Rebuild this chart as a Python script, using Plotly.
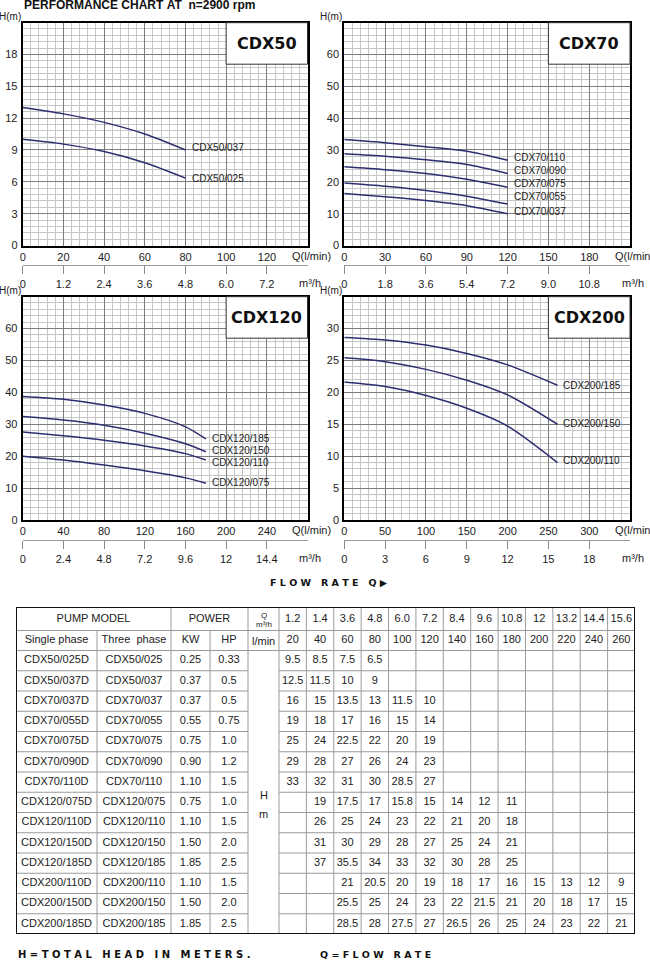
import plotly.graph_objects as go

W, H = 650, 961

# ------------------------------------------------------------------ data
TITLE = "PERFORMANCE CHART AT  n=2900 rpm"

cdx50_q = [0, 20, 40, 60, 80]
cdx50_models = ["CDX50/037", "CDX50/025"]
cdx50_heads = [
    [13.0, 12.4, 11.6, 10.5, 9.0],
    [10.0, 9.55, 8.85, 7.8, 6.35],
]
cdx50_m3h_ticks = ["0", "1.2", "2.4", "3.6", "4.8", "6.0", "7.2"]

cdx70_q = [0, 30, 60, 90, 120]
cdx70_models = ["CDX70/110", "CDX70/090", "CDX70/075", "CDX70/055", "CDX70/037"]
cdx70_heads = [
    [33.3, 32.3, 31.0, 29.6, 26.8],
    [28.8, 28.0, 26.9, 25.4, 22.6],
    [24.7, 23.8, 22.6, 20.8, 18.3],
    [19.6, 18.6, 17.3, 15.5, 13.0],
    [16.3, 15.3, 14.1, 12.5, 10.0],
]
cdx70_m3h_ticks = ["0", "1.8", "3.6", "5.4", "7.2", "9.0", "10.8"]

cdx120_q = [0, 40, 80, 120, 160, 180]
cdx120_models = ["CDX120/185", "CDX120/150", "CDX120/110", "CDX120/075"]
cdx120_heads = [
    [38.7, 37.8, 36.0, 33.4, 29.2, 25.4],
    [32.4, 31.3, 29.7, 27.2, 23.9, 21.4],
    [27.6, 26.4, 25.0, 23.2, 20.8, 18.8],
    [20.0, 18.8, 17.2, 15.4, 13.2, 11.5],
]
cdx120_m3h_ticks = ["0", "2.4", "4.8", "7.2", "9.6", "12", "14.4"]

cdx200_q = [0, 50, 100, 150, 200, 261]
cdx200_models = ["CDX200/185", "CDX200/150", "CDX200/110"]
cdx200_heads = [
    [28.6, 28.2, 27.4, 26.1, 24.3, 21.1],
    [25.4, 24.8, 23.6, 21.9, 19.6, 15.0],
    [21.6, 20.9, 19.5, 17.5, 14.7, 9.0],
]
cdx200_m3h_ticks = ["0", "3", "6", "9", "12", "15", "18"]

# table
single_phase = ["CDX50/025D", "CDX50/037D", "CDX70/037D", "CDX70/055D", "CDX70/075D",
                "CDX70/090D", "CDX70/110D", "CDX120/075D", "CDX120/110D", "CDX120/150D",
                "CDX120/185D", "CDX200/110D", "CDX200/150D", "CDX200/185D"]
three_phase = ["CDX50/025", "CDX50/037", "CDX70/037", "CDX70/055", "CDX70/075",
               "CDX70/090", "CDX70/110", "CDX120/075", "CDX120/110", "CDX120/150",
               "CDX120/185", "CDX200/110", "CDX200/150", "CDX200/185"]
power_kw = ["0.25", "0.37", "0.37", "0.55", "0.75", "0.90", "1.10", "0.75", "1.10",
            "1.50", "1.85", "1.10", "1.50", "1.85"]
power_hp = ["0.33", "0.5", "0.5", "0.75", "1.0", "1.2", "1.5", "1.0", "1.5", "2.0",
            "2.5", "1.5", "2.0", "2.5"]
flow_m3h = ["1.2", "1.4", "3.6", "4.8", "6.0", "7.2", "8.4", "9.6", "10.8", "12",
            "13.2", "14.4", "15.6"]
flow_lpm = ["20", "40", "60", "80", "100", "120", "140", "160", "180", "200", "220",
            "240", "260"]
N = None
head_rows = [
    [9.5, 8.5, 7.5, 6.5, N, N, N, N, N, N, N, N, N],
    [12.5, 11.5, 10, 9, N, N, N, N, N, N, N, N, N],
    [16, 15, 13.5, 13, 11.5, 10, N, N, N, N, N, N, N],
    [19, 18, 17, 16, 15, 14, N, N, N, N, N, N, N],
    [25, 24, 22.5, 22, 20, 19, N, N, N, N, N, N, N],
    [29, 28, 27, 26, 24, 23, N, N, N, N, N, N, N],
    [33, 32, 31, 30, 28.5, 27, N, N, N, N, N, N, N],
    [N, 19, 17.5, 17, 15.8, 15, 14, 12, 11, N, N, N, N],
    [N, 26, 25, 24, 23, 22, 21, 20, 18, N, N, N, N],
    [N, 31, 30, 29, 28, 27, 25, 24, 21, N, N, N, N],
    [N, 37, 35.5, 34, 33, 32, 30, 28, 25, N, N, N, N],
    [N, N, 21, 20.5, 20, 19, 18, 17, 16, 15, 13, 12, 9],
    [N, N, 25.5, 25, 24, 23, 22, 21.5, 21, 20, 18, 17, 15],
    [N, N, 28.5, 28, 27.5, 27, 26.5, 26, 25, 24, 23, 22, 21],
]

# ------------------------------------------------------------------ styles
NARROW = "Liberation Sans Narrow, Arial Narrow, Liberation Sans, sans-serif"
SANS = "Liberation Sans, Arial, sans-serif"
HEAVY = "DejaVu Sans, sans-serif"
CURVE = "#2d2e70"
TXT = "#222222"


def fx(p):
    return p / W


def fy(p):
    return 1 - p / H


charts = [
    dict(name="CDX50", q=cdx50_q, models=cdx50_models, heads=cdx50_heads,
         m3=cdx50_m3h_ticks, box=(22.7, 307.5, 22.7, 245.5), xmax=140, xd=20, xm=4,
         ymax=21, yd=3, ym=0.6, m3y=265, lshift=[2, 0]),
    dict(name="CDX70", q=cdx70_q, models=cdx70_models, heads=cdx70_heads,
         m3=cdx70_m3h_ticks, box=(344.3, 630, 22.7, 245.5), xmax=210, xd=30, xm=6,
         ymax=70, yd=10, ym=2, m3y=265, lshift=[2.5, 3, 3.5, 7.5, 2]),
    dict(name="CDX120", q=cdx120_q, models=cdx120_models, heads=cdx120_heads,
         m3=cdx120_m3h_ticks, box=(22.7, 307.5, 296.7, 520), xmax=280, xd=40, xm=8,
         ymax=70, yd=10, ym=2, m3y=540, lshift=[0, 1, -2, 1]),
    dict(name="CDX200", q=cdx200_q, models=cdx200_models, heads=cdx200_heads,
         m3=cdx200_m3h_ticks, box=(344.3, 630, 296.7, 520), xmax=350, xd=50, xm=10,
         ymax=35, yd=5, ym=1, m3y=540, lshift=[0, 1, 2]),
]

fig = go.Figure()
layout = dict(width=W, height=H, margin=dict(l=0, r=0, t=0, b=0, autoexpand=False),
              paper_bgcolor="white", plot_bgcolor="white", showlegend=False)
shapes = []
annotations = []

tickfont = dict(family=NARROW, size=11, color=TXT)
capfont = dict(family=NARROW, size=11, color=TXT)

for i, c in enumerate(charts, start=1):
    x0, x1, y0, y1 = c["box"]
    xdom = [fx(x0), fx(x1)]
    ydom = [fy(y1), fy(y0)]
    xs = "" if i == 1 else str(i)
    xn, yn = "x" + xs, "y" + xs
    layout["xaxis" + xs] = dict(
        domain=xdom, range=[0, c["xmax"] * 0.9995], anchor=yn,
        tickmode="linear", tick0=0, dtick=c["xd"],
        showgrid=True, gridcolor="#7c7c7c", gridwidth=1,
        minor=dict(tick0=0, dtick=c["xm"], showgrid=True, gridcolor="#c6c6c6",
                   gridwidth=1, ticks="", ticklen=0),
        showline=True, linecolor="black", linewidth=2, mirror=True,
        zeroline=False, ticks="outside", ticklen=0, tickfont=tickfont,
        ticklabelstandoff=0, automargin=False, fixedrange=True)
    layout["yaxis" + xs] = dict(
        domain=ydom, range=[0, c["ymax"] * 0.9995], anchor=xn,
        tickmode="linear", tick0=0, dtick=c["yd"],
        showgrid=True, gridcolor="#7c7c7c", gridwidth=1,
        minor=dict(tick0=0, dtick=c["ym"], showgrid=True, gridcolor="#c6c6c6",
                   gridwidth=1, ticks="", ticklen=0),
        showline=True, linecolor="black", linewidth=2, mirror=True,
        zeroline=False, ticks="outside", ticklen=0, tickfont=tickfont,
        ticklabelstandoff=1, automargin=False, fixedrange=True)

    # curves
    for k, (m, hv) in enumerate(zip(c["models"], c["heads"])):
        fig.add_trace(go.Scatter(x=c["q"], y=hv, mode="lines", xaxis=xn, yaxis=yn,
                                 line=dict(color=CURVE, width=1.5, shape="spline", smoothing=0.8),
                                 hoverinfo="skip", showlegend=False))
        annotations.append(dict(x=c["q"][-1], y=hv[-1], xref=xn, yref=yn, text=m,
                                showarrow=False, xanchor="left", yanchor="middle",
                                xshift=4, yshift=c["lshift"][k],
                                font=dict(family=SANS, size=10, color=TXT)))

    # model name box
    ph = y1 - y0
    shapes.append(dict(type="rect", xref=xn + " domain", yref=yn + " domain",
                       x0=5 / 7, x1=1, y0=1 - 41.5 / ph, y1=1, fillcolor="white",
                       line=dict(color="#333333", width=1), layer="above"))
    annotations.append(dict(x=(5 / 7 + 1) / 2, y=1 - 20.75 / ph, xref=xn + " domain",
                            yref=yn + " domain", text="<b>%s</b>" % c["name"],
                            xanchor="center", yanchor="middle",
                            showarrow=False, font=dict(family=HEAVY, size=16, color="#111")))
    # axis captions
    annotations.append(dict(x=0, y=1, xref=xn + " domain", yref=yn + " domain",
                            text="H(m)", showarrow=False, xanchor="right", yanchor="bottom",
                            xshift=0, yshift=-1, font=dict(family=NARROW, size=10, color=TXT)))
    annotations.append(dict(x=1, y=0, xref=xn + " domain", yref=yn + " domain",
                            text="Q(l/min)", showarrow=False, xanchor="left", yanchor="top",
                            xshift=-17, yshift=-2, font=capfont))

    # secondary m3/h axis
    j = i + 4
    sx, sy = "x%d" % j, "y%d" % j
    layout["xaxis%d" % j] = dict(
        domain=xdom, range=[0, c["xmax"] * 0.06], anchor=sy,
        tickmode="array", tickvals=[float(t) for t in c["m3"]], ticktext=c["m3"],
        ticks="outside", ticklen=8, tickcolor="#8a8a8a", tickwidth=1,
        showline=True, linecolor="#9a9a9a", linewidth=1, showgrid=False,
        zeroline=False, tickfont=tickfont, automargin=False, fixedrange=True)
    layout["yaxis%d" % j] = dict(domain=[fy(c["m3y"]) - 0.0005, fy(c["m3y"])],
                                 range=[0, 1], visible=False, fixedrange=True)
    fig.add_trace(go.Scatter(x=[0], y=[0.5], xaxis=sx, yaxis=sy, mode="markers",
                             marker=dict(opacity=0), hoverinfo="skip", showlegend=False))
    annotations.append(dict(x=1, y=fy(c["m3y"] + 18), xref=xn + " domain", yref="paper",
                            text="m³/h", showarrow=False, xanchor="left", yanchor="middle",
                            xshift=-10, font=capfont))

# ------------------------------------------------------------------ titles / notes
def spaced(s, gap=3):
    words = s.split(" ")
    return ("\u00a0" * gap).join("\u00a0".join(list(w)) for w in words)


annotations.append(dict(x=fx(22), y=fy(14), xref="paper", yref="paper",
                        text="<b>" + TITLE.replace(" ", "\u00a0") + "</b>",
                        showarrow=False, xanchor="left", yanchor="bottom",
                        font=dict(family=NARROW, size=12, color="#111")))
annotations.append(dict(x=fx(268), y=fy(582), xref="paper", yref="paper",
                        text="<b>" + spaced("FLOW RATE Q\u25b6", 3) + "</b>",
                        showarrow=False, xanchor="left", yanchor="middle",
                        font=dict(family=HEAVY, size=9.5, color="#111")))
annotations.append(dict(x=fx(16), y=fy(954), xref="paper", yref="paper",
                        text="<b>" + spaced("H=TOTAL HEAD IN METERS.", 3) + "</b>",
                        showarrow=False, xanchor="left", yanchor="middle",
                        font=dict(family=HEAVY, size=10, color="#111")))
annotations.append(dict(x=fx(318), y=fy(954), xref="paper", yref="paper",
                        text="<b>" + spaced("Q=FLOW RATE", 3) + "</b>",
                        showarrow=False, xanchor="left", yanchor="middle",
                        font=dict(family=HEAVY, size=9.5, color="#111")))

# ------------------------------------------------------------------ table
T_LEFT, T_TOP, T_W, T_H = 16, 607, 619, 327
col_edges = [0, 81, 155, 194, 232, 263] + [263 + (T_W - 263) * k / 13 for k in range(1, 14)]
row_edges = [0, 23.5, 43.5] + [43.5 + (T_H - 43.5) * k / 14 for k in range(1, 15)]
layout["xaxis9"] = dict(domain=[fx(T_LEFT), fx(T_LEFT + T_W)], range=[0, T_W], anchor="y9",
                        visible=False, fixedrange=True)
layout["yaxis9"] = dict(domain=[fy(T_TOP + T_H), fy(T_TOP)], range=[T_H, 0], anchor="x9",
                        visible=False, fixedrange=True)

GRID = dict(color="#9a9a9a", width=1)


def tline(xa, ya, xb, yb):
    shapes.append(dict(type="line", xref="x9", yref="y9", x0=xa, y0=ya, x1=xb, y1=yb,
                       line=GRID, layer="above"))


tline(0, row_edges[1], T_W, row_edges[1])
tline(0, row_edges[2], T_W, row_edges[2])
for r in row_edges[3:-1]:
    tline(0, r, col_edges[4], r)
    tline(col_edges[5], r, T_W, r)
for k, cx in enumerate(col_edges[1:-1], start=1):
    top = row_edges[1] if k in (1, 3) else 0
    tline(cx, top, cx, T_H)
shapes.append(dict(type="rect", xref="x9", yref="y9", x0=0, y0=0, x1=T_W, y1=T_H,
                   line=dict(color="#111", width=2), layer="above"))

cx_mid = [(col_edges[k] + col_edges[k + 1]) / 2 for k in range(len(col_edges) - 1)]
ry_mid = [(row_edges[k] + row_edges[k + 1]) / 2 for k in range(len(row_edges) - 1)]

tx, ty, tt = [], [], []


def put(x, y, s):
    tx.append(x)
    ty.append(y)
    tt.append(s)


put((col_edges[0] + col_edges[2]) / 2, ry_mid[0], "PUMP MODEL")
put((col_edges[2] + col_edges[4]) / 2, ry_mid[0], "POWER")
put(cx_mid[0], ry_mid[1], "Single phase")
put(cx_mid[1], ry_mid[1], "Three\u00a0\u00a0phase")
put(cx_mid[2], ry_mid[1], "KW")
put(cx_mid[3], ry_mid[1], "HP")
for k in range(13):
    put(cx_mid[5 + k], ry_mid[0], flow_m3h[k])
    put(cx_mid[5 + k], ry_mid[1], flow_lpm[k])
for r in range(14):
    yy = ry_mid[2 + r]
    put(cx_mid[0], yy, single_phase[r])
    put(cx_mid[1], yy, three_phase[r])
    put(cx_mid[2], yy, power_kw[r])
    put(cx_mid[3], yy, power_hp[r])
    for k, v in enumerate(head_rows[r]):
        if v is not None:
            put(cx_mid[5 + k], yy, "%g" % v)

fig.add_trace(go.Scatter(x=tx, y=ty, text=tt, mode="text", xaxis="x9", yaxis="y9",
                         textposition="middle center",
                         textfont=dict(family=SANS, size=11, color=TXT),
                         hoverinfo="skip", showlegend=False, cliponaxis=False))
small = dict(family=SANS, size=8, color=TXT)
annotations.append(dict(x=cx_mid[4], y=8, xref="x9", yref="y9", text="Q", showarrow=False,
                        xanchor="center", yanchor="middle", font=small))
annotations.append(dict(x=cx_mid[4], y=17.5, xref="x9", yref="y9", text="m³/h", showarrow=False,
                        xanchor="center", yanchor="middle", font=small))
annotations.append(dict(x=cx_mid[4], y=ry_mid[1], xref="x9", yref="y9", text="l/min", showarrow=False,
                        xanchor="center", yanchor="middle",
                        font=dict(family=NARROW, size=11, color=TXT)))
annotations.append(dict(x=cx_mid[4], y=188, xref="x9", yref="y9", text="H", showarrow=False,
                        xanchor="center", yanchor="middle",
                        font=dict(family=SANS, size=11, color=TXT)))
annotations.append(dict(x=cx_mid[4], y=207, xref="x9", yref="y9", text="m", showarrow=False,
                        xanchor="center", yanchor="middle",
                        font=dict(family=SANS, size=11, color=TXT)))

layout["shapes"] = shapes
layout["annotations"] = annotations
fig.update_layout(**layout)
fig.write_html("out.html", config={"displayModeBar": False, "staticPlot": True},
               post_script="document.body.style.margin='0px';document.body.style.overflow='hidden';")
